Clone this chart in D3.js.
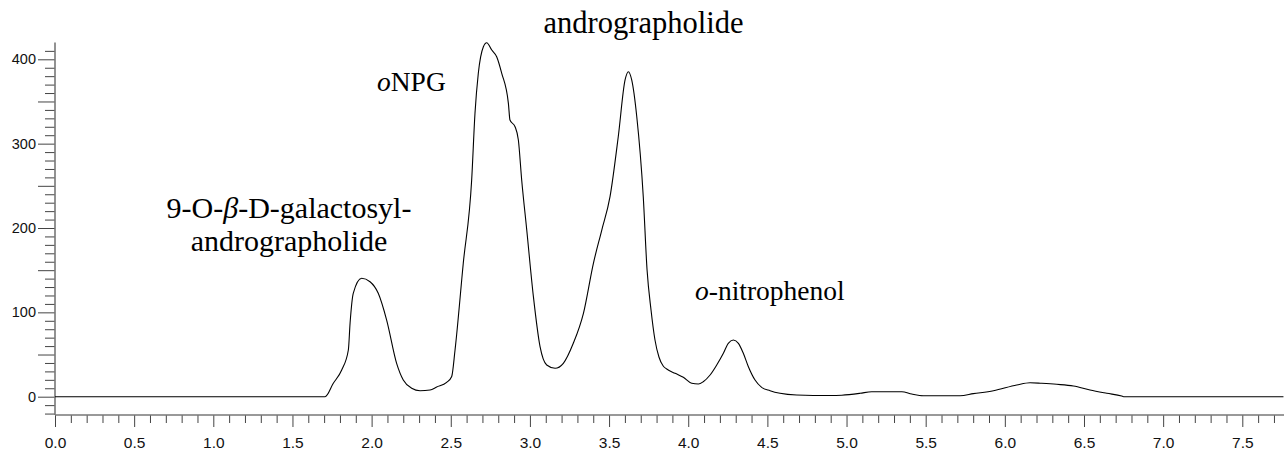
<!DOCTYPE html>
<html>
<head>
<meta charset="utf-8">
<script src="https://cdn.jsdelivr.net/npm/d3@7"></script>
<style>
  html, body { margin: 0; padding: 0; background: #fff; }
  svg { display: block; }
</style>
</head>
<body>
<svg id="chart" width="1284" height="451"></svg>
<script>
// Retention time (min)
const times = [0, 1.706, 1.758, 1.811, 1.853, 1.864, 1.884, 1.937, 1.990, 2.042, 2.095, 2.158, 2.200, 2.253, 2.306, 2.369, 2.411, 2.474, 2.506, 2.527, 2.579, 2.632, 2.653, 2.674, 2.706, 2.727, 2.759, 2.790, 2.822, 2.864, 2.874, 2.906, 2.927, 2.948, 2.980, 3.022, 3.064, 3.106, 3.159, 3.211, 3.274, 3.338, 3.401, 3.454, 3.506, 3.558, 3.601, 3.622, 3.643, 3.675, 3.716, 3.740, 3.765, 3.790, 3.815, 3.842, 3.864, 3.917, 3.969, 4.022, 4.064, 4.095, 4.138, 4.180, 4.222, 4.253, 4.285, 4.317, 4.348, 4.380, 4.422, 4.464, 4.517, 4.580, 4.685, 4.896, 4.970, 5.085, 5.159, 5.349, 5.412, 5.485, 5.717, 5.801, 5.928, 6.075, 6.159, 6.233, 6.328, 6.433, 6.538, 6.644, 6.738, 6.750, 7.76];
// Detector signal
const signal = [0, 0, 15.9, 31.7, 55.4, 87.4, 122.6, 140.4, 136.3, 122.6, 90.9, 39.6, 19.8, 10.0, 7.1, 7.9, 11.5, 17.0, 24.0, 55.4, 158.2, 256.9, 336.0, 383.4, 414.9, 419.7, 411.0, 403.1, 383.4, 347.8, 328.0, 320.1, 304.3, 256.9, 197.6, 118.6, 59.3, 37.6, 33.7, 39.6, 63.3, 98.9, 158.2, 197.6, 237.1, 308.2, 375.5, 385.3, 375.5, 331.9, 237.1, 150.2, 102.8, 67.2, 47.1, 36.4, 32.8, 27.7, 23.0, 15.9, 15.1, 17.8, 25.7, 37.6, 51.5, 63.3, 67.2, 63.3, 51.5, 35.6, 19.8, 11.1, 7.1, 4.0, 2.0, 1.4, 1.8, 4.0, 5.9, 5.9, 3.2, 1.2, 1.2, 3.6, 7.1, 13.9, 16.6, 15.9, 14.7, 12.7, 7.9, 4.0, 0.8, 0, 0];

const xMajorTicks = [0, 0.5, 1.0, 1.5, 2.0, 2.5, 3.0, 3.5, 4.0, 4.5, 5.0, 5.5, 6.0, 6.5, 7.0, 7.5];
const yMajorTicks = [0, 100, 200, 300, 400];

const svg = d3.select("#chart");

const x = d3.scaleLinear().domain([0, 7.5]).range([55, 1242.3]);
const y = d3.scaleLinear().domain([0, 400]).range([396.7, 59.3]);

const yMin = -21.7, yMax = 420;

// Y axis
const yMinorVals = d3.range(-20, 411, 10).filter(v => v % 50 !== 0);
const yMidVals = d3.range(50, 401, 100);
const axisX = x(0);

svg.append("g").attr("transform", `translate(${axisX},0)`)
  .call(d3.axisLeft(y).tickValues(yMinorVals).tickSize(10).tickFormat(""));
svg.append("g").attr("transform", `translate(${axisX},0)`)
  .call(d3.axisLeft(y).tickValues(yMidVals).tickSize(17).tickFormat(""));
const gYmaj = svg.append("g").attr("transform", `translate(${axisX},0)`)
  .call(d3.axisLeft(y).tickValues(yMajorTicks).tickSize(17).tickPadding(2).tickFormat(d3.format("d")));

// X axis
const xAxisY = y(yMin);
const xMinorVals = d3.range(0, 78).map(i => i / 10).filter(v => Math.abs(v * 2 - Math.round(v * 2)) > 1e-6);
svg.append("g").attr("transform", `translate(0,${xAxisY})`)
  .call(d3.axisBottom(x).tickValues(xMinorVals).tickSize(8).tickFormat(""));
const gXmaj = svg.append("g").attr("transform", `translate(0,${xAxisY})`)
  .call(d3.axisBottom(x).tickValues(xMajorTicks).tickSize(12).tickPadding(10).tickFormat(d3.format(".1f")));

svg.selectAll(".domain").remove();
svg.selectAll(".tick line").attr("stroke", "#444").attr("stroke-width", 1);
gYmaj.selectAll("text").attr("font-family", "Arial, 'Liberation Sans', sans-serif").attr("font-size", 14.5).attr("fill", "#111");
gXmaj.selectAll("text").attr("font-family", "Arial, 'Liberation Sans', sans-serif").attr("font-size", 15.5).attr("fill", "#111");

// axis lines
svg.append("line").attr("x1", axisX).attr("x2", axisX).attr("y1", y(yMax)).attr("y2", xAxisY)
  .attr("stroke", "#777").attr("stroke-width", 1.6);
svg.append("line").attr("x1", axisX).attr("x2", 1284).attr("y1", xAxisY).attr("y2", xAxisY)
  .attr("stroke", "#777").attr("stroke-width", 1.6);

// chromatogram trace
const pts = times.map((t, i) => [t, signal[i]]);
svg.append("path").datum(pts)
  .attr("fill", "none").attr("stroke", "#000").attr("stroke-width", 1.1)
  .attr("d", d3.line().x(d => x(d[0])).y(d => y(d[1])).curve(d3.curveMonotoneX));

// peak labels
const serif = "'Times New Roman', 'Liberation Serif', serif";
function label(xp, yp, anchor, size, parts) {
  const t = svg.append("text").attr("x", xp).attr("y", yp).attr("text-anchor", anchor)
    .attr("font-family", serif).attr("font-size", size).attr("fill", "#000");
  parts.forEach(p => t.append("tspan").attr("font-style", p[1] ? "italic" : "normal").text(p[0]));
}
label(643.5, 33, "middle", 30.5, [["andrographolide", false]]);
label(377, 91, "start", 27.5, [["o", true], ["NPG", false]]);
label(289, 218, "middle", 30, [["9-O-", false], ["β", true], ["-D-galactosyl-", false]]);
label(289, 251, "middle", 30, [["andrographolide", false]]);
label(695, 300, "start", 27.5, [["o", true], ["-nitrophenol", false]]);
</script>
</body>
</html>
